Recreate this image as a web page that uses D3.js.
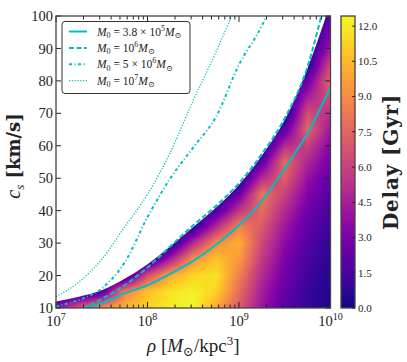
<!DOCTYPE html>
<html lang="en">
<head>
<meta charset="UTF-8">
<title>Delay map</title>
<style>
  body { margin: 0; background: #fff; }
  text { font-family: "Liberation Serif", "DejaVu Serif", serif; fill: #222; }
</style>
</head>
<body>
<div id="chart"></div>
<script src="https://d3js.org/d3.v7.min.js"></script>
<script>
// grid of the delay map: columns are log10(rho), rows are c_s (bottom to top)
var gridLogRho = [7.0, 7.25, 7.5, 7.75, 8.0, 8.25, 8.5, 8.75, 9.0, 9.25, 9.5, 9.75, 10.0];
var gridCs = [10, 15, 20, 25, 30, 35, 40, 45, 50, 55, 60, 65, 70, 75, 80, 85, 90, 95, 100];
// delay in Gyr
var delay = [
  [3.5, 7.0, 9.2, 10.4, 11.3, 12.0, 12.4, 10.0, 7.0, 4.0, 2.0, 0.9, 0.3],   // 10
  [0, 0, 1.5, 8.5, 10.8, 11.8, 12.2, 11.3, 7.8, 4.5, 2.3, 1.0, 0.35],       // 15
  [0, 0, 0, 0, 6.5, 10.0, 11.4, 11.8, 8.6, 5.0, 2.7, 1.2, 0.45],            // 20
  [0, 0, 0, 0, 0, 4.5, 9.3, 10.8, 9.5, 5.7, 3.1, 1.5, 0.6],                 // 25
  [0, 0, 0, 0, 0, 0, 5.0, 9.0, 10.2, 6.3, 3.6, 1.8, 0.8],                   // 30
  [0, 0, 0, 0, 0, 0, 0.5, 5.0, 8.8, 7.0, 4.2, 2.2, 1.1],                    // 35
  [0, 0, 0, 0, 0, 0, 0, 1.5, 5.5, 7.8, 5.0, 2.7, 1.4],                      // 40
  [0, 0, 0, 0, 0, 0, 0, 0, 2.5, 8.2, 6.0, 3.2, 1.8],                        // 45
  [0, 0, 0, 0, 0, 0, 0, 0, 0, 5.0, 7.2, 3.9, 2.2],                          // 50
  [0, 0, 0, 0, 0, 0, 0, 0, 0, 2.0, 7.8, 4.8, 2.7],                          // 55
  [0, 0, 0, 0, 0, 0, 0, 0, 0, 0, 5.0, 6.0, 3.3],                            // 60
  [0, 0, 0, 0, 0, 0, 0, 0, 0, 0, 2.0, 7.6, 4.1],                            // 65
  [0, 0, 0, 0, 0, 0, 0, 0, 0, 0, 0, 6.5, 5.2],                              // 70
  [0, 0, 0, 0, 0, 0, 0, 0, 0, 0, 0, 4.5, 6.6],                              // 75
  [0, 0, 0, 0, 0, 0, 0, 0, 0, 0, 0, 2.5, 7.6],                              // 80
  [0, 0, 0, 0, 0, 0, 0, 0, 0, 0, 0, 0.5, 6.3],                              // 85
  [0, 0, 0, 0, 0, 0, 0, 0, 0, 0, 0, 0, 4.2],                                // 90
  [0, 0, 0, 0, 0, 0, 0, 0, 0, 0, 0, 0, 2.8],                                // 95
  [0, 0, 0, 0, 0, 0, 0, 0, 0, 0, 0, 0, 1.7]                                 // 100
];
var delayMax = 12.43;

// edge of the allowed region (white above it)
var edgeLogRho = [7.0, 7.25, 7.5, 7.75, 8.0, 8.25, 8.5, 8.75, 9.0, 9.25, 9.5, 9.75, 10.0];
var edgeCs     = [12, 13.5, 15.5, 19, 23.5, 29, 35, 41, 48, 57, 68, 84, 104];

// M0 curves: [log10 rho, c_s]
var curveSolid = [[7.32,10],[7.5,11.5],[7.75,14.5],[8.0,17],[8.25,20.5],[8.5,24.5],[8.75,29.5],[9.0,35.5],[9.25,43],[9.5,53],[9.75,64],[10,78]];
var curveDashed = [[7.3,10],[7.5,12.8],[7.75,17],[8.0,22.5],[8.25,29],[8.5,35.5],[8.75,41.5],[9.0,48.5],[9.25,57.5],[9.5,68.5],[9.75,84.5],[9.9,100]];
var curveDashDot = [[7.0,10.5],[7.25,12.5],[7.5,16],[7.75,24],[8.0,38],[8.25,50],[8.5,59.5],[8.75,69],[9.0,85],[9.25,97],[9.3,100]];
var curveDotted = [[7.0,13.5],[7.25,18],[7.5,25],[7.75,35],[8.0,45],[8.25,58],[8.5,74],[8.75,89],[8.92,100]];

var legendLabels = [
  {mant: "3.8 × 10", exp: "5"},
  {mant: "10", exp: "6"},
  {mant: "5 × 10", exp: "6"},
  {mant: "10", exp: "7"}
];
var cbTicks = [0, 1.5, 3, 4.5, 6, 7.5, 9, 10.5, 12];
var yTicks = [10, 20, 30, 40, 50, 60, 70, 80, 90, 100];
var xTicks = [7, 8, 9, 10];

var width = 407, height = 362;
var plot = {left: 56, right: 330.5, top: 16, bottom: 308};
var cbar = {left: 341, right: 355};
var lineColor = "#00bfbf";
var boldFont = "'DejaVu Serif', serif";

var svg = d3.select("#chart").append("svg")
    .attr("width", width)
    .attr("height", height);

var x = d3.scaleLog().domain([1e7, 1e10]).range([plot.left, plot.right]);
var y = d3.scaleLinear().domain([10, 100]).range([plot.bottom, plot.top]);
var color = d3.scaleSequential(d3.interpolatePlasma).domain([0, delayMax]);

svg.append("clipPath").attr("id", "plotclip")
  .append("rect")
    .attr("x", plot.left).attr("y", plot.top)
    .attr("width", plot.right - plot.left).attr("height", plot.bottom - plot.top);

// draw the map onto a canvas, smoothing the grid (bilinear on the values)
var W = Math.round(plot.right - plot.left), H = Math.round(plot.bottom - plot.top);
var canvas = document.createElement("canvas");
canvas.width = W; canvas.height = H;
var ctx = canvas.getContext("2d");
var img = ctx.createImageData(W, H);
var du = gridLogRho[1] - gridLogRho[0], dc = gridCs[1] - gridCs[0];
function cell(i, j) {
  i = Math.max(0, Math.min(gridLogRho.length - 1, i));
  j = Math.max(0, Math.min(gridCs.length - 1, j));
  return delay[j][i];
}
for (var py = 0; py < H; py++) {
  var c = y.invert(plot.top + py + 0.5);
  var fc = (c - gridCs[0]) / dc;
  var j0 = Math.floor(fc), tj = fc - j0;
  for (var px = 0; px < W; px++) {
    var u = Math.log10(x.invert(plot.left + px + 0.5));
    var fu = (u - gridLogRho[0]) / du;
    var i0 = Math.floor(fu), ti = fu - i0;
    var v = (1 - ti) * (1 - tj) * cell(i0, j0) + ti * (1 - tj) * cell(i0 + 1, j0)
          + (1 - ti) * tj * cell(i0, j0 + 1) + ti * tj * cell(i0 + 1, j0 + 1);
    var rgb = d3.rgb(color(v));
    var k = (py * W + px) * 4;
    img.data[k] = rgb.r; img.data[k + 1] = rgb.g; img.data[k + 2] = rgb.b; img.data[k + 3] = 255;
  }
}
ctx.putImageData(img, 0, 0);

var gPlot = svg.append("g").attr("clip-path", "url(#plotclip)");
gPlot.append("image")
    .attr("x", plot.left).attr("y", plot.top)
    .attr("width", W).attr("height", H)
    .attr("preserveAspectRatio", "none")
    .attr("href", canvas.toDataURL());

// white out the forbidden region above the edge
var edge = edgeLogRho.map(function (d, i) { return [d, edgeCs[i]]; });
gPlot.append("path")
    .datum(edge)
    .attr("fill", "#fff")
    .attr("d", d3.area()
        .x(function (d) { return x(Math.pow(10, d[0])); })
        .y0(plot.top - 5)
        .y1(function (d) { return y(d[1]); })
        .curve(d3.curveMonotoneX));

var line = d3.line()
    .x(function (d) { return x(Math.pow(10, d[0])); })
    .y(function (d) { return y(d[1]); })
    .curve(d3.curveMonotoneX);

var styles = [
  {data: curveSolid, dash: null, w: 2},
  {data: curveDashed, dash: "5,2.5", w: 2},
  {data: curveDashDot, dash: "3,2.5,1,2.5", w: 2},
  {data: curveDotted, dash: "1.2,1.6", w: 1.3}
];
styles.forEach(function (s) {
  gPlot.append("path")
      .datum(s.data)
      .attr("fill", "none")
      .attr("stroke", lineColor)
      .attr("stroke-width", s.w)
      .attr("stroke-dasharray", s.dash)
      .attr("d", line);
});

// frame and ticks
var tickCol = "#222";
var minor = [];
for (var e = 7; e < 10; e++) for (var m = 2; m < 10; m++) minor.push(m * Math.pow(10, e));
var gt = svg.append("g").attr("stroke", tickCol).attr("stroke-width", 1);
minor.forEach(function (v) {
  gt.append("line").attr("x1", x(v)).attr("x2", x(v)).attr("y1", plot.bottom).attr("y2", plot.bottom - 3.5);
  gt.append("line").attr("x1", x(v)).attr("x2", x(v)).attr("y1", plot.top).attr("y2", plot.top + 3.5);
});
xTicks.forEach(function (e) {
  var v = Math.pow(10, e);
  gt.append("line").attr("x1", x(v)).attr("x2", x(v)).attr("y1", plot.bottom).attr("y2", plot.bottom - 6);
  gt.append("line").attr("x1", x(v)).attr("x2", x(v)).attr("y1", plot.top).attr("y2", plot.top + 6);
});
yTicks.forEach(function (v) {
  gt.append("line").attr("x1", plot.left).attr("x2", plot.left + 5).attr("y1", y(v)).attr("y2", y(v));
  gt.append("line").attr("x1", plot.right).attr("x2", plot.right - 5).attr("y1", y(v)).attr("y2", y(v));
});
svg.append("rect")
    .attr("x", plot.left).attr("y", plot.top)
    .attr("width", plot.right - plot.left).attr("height", plot.bottom - plot.top)
    .attr("fill", "none").attr("stroke", "#444").attr("stroke-width", 1.3);

// tick labels
svg.selectAll(".ylab").data(yTicks).enter().append("text")
    .attr("x", plot.left - 3).attr("y", function (d) { return y(d); })
    .attr("dy", "0.35em").attr("text-anchor", "end")
    .attr("font-size", 14.5)
    .text(function (d) { return d; });

xTicks.forEach(function (e) {
  var t = svg.append("text")
      .attr("x", x(Math.pow(10, e))).attr("y", plot.bottom + 18)
      .attr("text-anchor", "middle").attr("font-size", 14.5);
  t.append("tspan").text("10");
  t.append("tspan").attr("font-size", 10).attr("dy", -6).text(e);
});

// axis labels
var xl = svg.append("text")
    .attr("x", (plot.left + plot.right) / 2).attr("y", 352)
    .attr("text-anchor", "middle").attr("font-size", 19);
xl.append("tspan").attr("font-style", "italic").text("ρ");
xl.append("tspan").text(" [");
xl.append("tspan").attr("font-style", "italic").text("M");
xl.append("tspan").attr("font-size", 13).attr("dy", 4).text("⊙");
xl.append("tspan").attr("dy", -4).text("/kpc");
xl.append("tspan").attr("font-size", 13).attr("dy", -7).text("3");
xl.append("tspan").attr("dy", 7).text("]");

var yl = svg.append("text")
    .attr("transform", "translate(20," + ((plot.top + plot.bottom) / 2 - 6) + ") rotate(-90)")
    .attr("text-anchor", "middle").attr("font-size", 19);
yl.append("tspan").attr("font-style", "italic").attr("font-size", 20).text("c");
yl.append("tspan").attr("font-style", "italic").attr("font-size", 13).attr("dy", 4).text("s");
yl.append("tspan").attr("dy", -4).attr("font-weight", "bold")
    .style("font-family", boldFont).attr("font-size", 18).text(" [km/s]");

// legend
var lg = svg.append("g");
lg.append("rect")
    .attr("x", 62).attr("y", 21.5).attr("width", 128).attr("height", 72)
    .attr("rx", 3).attr("fill", "#fff").attr("stroke", "#333").attr("stroke-width", 1);
legendLabels.forEach(function (d, i) {
  var ly = 31.5 + i * 16.4;
  lg.append("line")
      .attr("x1", 69).attr("x2", 87).attr("y1", ly).attr("y2", ly)
      .attr("stroke", lineColor)
      .attr("stroke-width", styles[i].w)
      .attr("stroke-dasharray", styles[i].dash);
  var t = lg.append("text").attr("x", 97).attr("y", ly + 4).attr("font-size", 11.5);
  t.append("tspan").attr("font-style", "italic").text("M");
  t.append("tspan").attr("font-size", 8).attr("dy", 2.5).text("0");
  t.append("tspan").attr("dy", -2.5).text(" = " + d.mant);
  t.append("tspan").attr("font-size", 8).attr("dy", -5).text(d.exp);
  t.append("tspan").attr("font-style", "italic").attr("dy", 5).text("M");
  t.append("tspan").attr("font-size", 8).attr("dy", 2.5).text("⊙");
});

// colorbar
var cy = d3.scaleLinear().domain([0, delayMax]).range([plot.bottom, plot.top]);
var grad = svg.append("defs").append("linearGradient")
    .attr("id", "cbgrad").attr("x1", 0).attr("y1", 1).attr("x2", 0).attr("y2", 0);
d3.range(0, 1.0001, 0.05).forEach(function (t) {
  grad.append("stop").attr("offset", t).attr("stop-color", d3.interpolatePlasma(t));
});
svg.append("rect")
    .attr("x", cbar.left).attr("y", plot.top)
    .attr("width", cbar.right - cbar.left).attr("height", plot.bottom - plot.top)
    .attr("fill", "url(#cbgrad)").attr("stroke", "#444").attr("stroke-width", 1.3);
cbTicks.forEach(function (v) {
  svg.append("line")
      .attr("x1", cbar.right).attr("x2", cbar.right - 3)
      .attr("y1", cy(v)).attr("y2", cy(v))
      .attr("stroke", tickCol);
  svg.append("text")
      .attr("x", cbar.right + 3).attr("y", cy(v)).attr("dy", "0.35em")
      .attr("font-size", 11).text(d3.format(".1f")(v));
});
svg.append("text")
    .attr("transform", "translate(398," + (plot.top + plot.bottom) / 2 + ") rotate(-90)")
    .attr("text-anchor", "middle").attr("font-size", 20).attr("font-weight", "bold")
    .attr("letter-spacing", 0.8)
    .style("font-family", boldFont)
    .text("Delay [Gyr]");
</script>
</body>
</html>
